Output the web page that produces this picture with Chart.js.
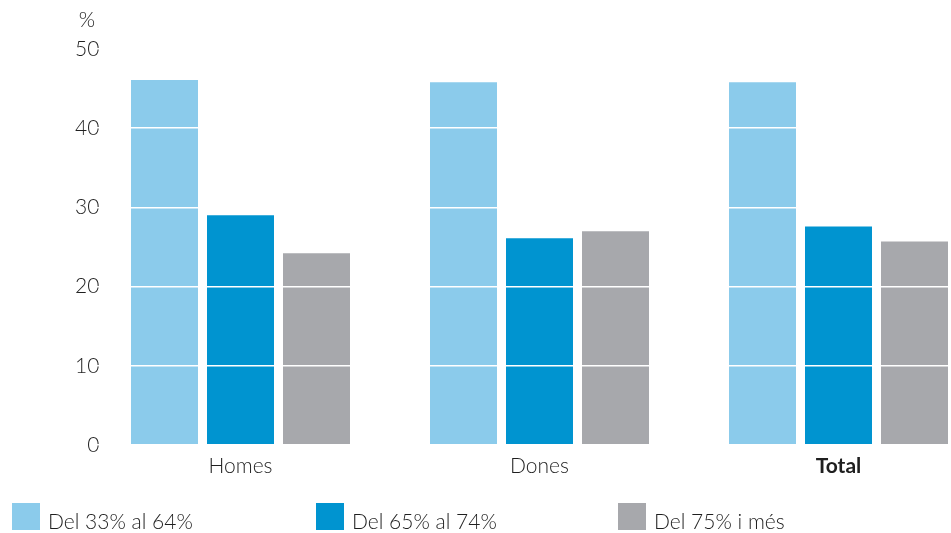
<!DOCTYPE html>
<html>
<head>
<meta charset="utf-8">
<script src="https://cdn.jsdelivr.net/npm/chart.js@4/dist/chart.umd.min.js"></script>
<style>
  html, body { margin: 0; padding: 0; background: #fff; }
  body { width: 951px; height: 533px; overflow: hidden; position: relative; font-family: Lato, "Open Sans", sans-serif; }
  #wrap { position: absolute; left: 0; top: 0; width: 1040px; height: 533px; }
  #legend { position: absolute; left: 0; top: 503px; width: 951px; height: 30px; }
  .item { position: absolute; top: 0; height: 28px; }
  .sw { position: absolute; left: 0; top: 0; width: 28px; height: 27px; }
  .lt { position: absolute; left: 36px; top: 6px; font-size: 21px; font-weight: 300; color: #1f1f1f; white-space: nowrap; line-height: 24px; }
</style>
</head>
<body>
<div id="wrap"><canvas id="c" width="1040" height="533"></canvas></div>
<div id="legend"></div>
<script>
const categories = ["Homes", "Dones", "Total"];
const seriesLabels = ["Del 33% al 64%", "Del 65% al 74%", "Del 75% i més"];
const band33to64 = [46.1, 45.8, 45.8];
const band65to74 = [29.0, 26.1, 27.6];
const band75plus = [24.2, 27.0, 25.7];
const yTicks = [0, 10, 20, 30, 40, 50];
const colors = ["#8BCBEB", "#0094D0", "#A7A8AC"];
const legendX = [12, 316, 618];

const seriesData = [band33to64, band65to74, band75plus];
const FONT = 'Lato, "Open Sans", sans-serif';
const TEXT = '#1f1f1f';

const percentPlugin = {
  id: 'percentTitle',
  afterDraw(chart) {
    const ctx = chart.ctx;
    ctx.save();
    ctx.font = '300 21px ' + FONT;
    ctx.fillStyle = TEXT;
    ctx.textAlign = 'center';
    ctx.textBaseline = 'middle';
    ctx.fillText('%', chart.chartArea.left - 4, chart.chartArea.top - 29);
    ctx.restore();
  }
};

const chart = new Chart(document.getElementById('c'), {
  type: 'bar',
  data: {
    labels: categories,
    datasets: seriesData.map((d, i) => ({
      label: seriesLabels[i],
      data: d,
      backgroundColor: colors[i],
      borderWidth: 0,
      categoryPercentage: 0.7625,
      barPercentage: 0.8816
    }))
  },
  options: {
    responsive: false,
    animation: false,
    devicePixelRatio: 1,
    layout: { padding: { top: 49, right: 52, bottom: 60, left: 0 } },
    plugins: { legend: { display: false }, tooltip: { enabled: false } },
    scales: {
      x: {
        offset: true,
        grid: { display: false, drawTicks: false },
        border: { display: false },
        ticks: {
          padding: 9,
          color: TEXT,
          font: (ctx) => ({ family: FONT, size: 21, weight: ctx.index === 2 ? 'bold' : 300 })
        },
        afterFit(scale) { scale.height = 28; }
      },
      y: {
        min: 0,
        max: 50,
        afterBuildTicks(scale) { scale.ticks = yTicks.map(v => ({ value: v })); },
        grid: { color: '#ffffff', lineWidth: 1.6, drawTicks: false, z: 1 },
        border: { display: false },
        ticks: {
          mirror: true,
          crossAlign: 'far',
          padding: -16,
          color: TEXT,
          font: { family: FONT, size: 21, weight: 300 }
        },
        afterFit(scale) { scale.width = 91; }
      }
    }
  },
  plugins: [percentPlugin]
});

const legend = document.getElementById('legend');
chart.data.datasets.forEach((ds, i) => {
  const item = document.createElement('div');
  item.className = 'item';
  item.style.left = legendX[i] + 'px';
  const sw = document.createElement('div');
  sw.className = 'sw';
  sw.style.background = ds.backgroundColor;
  const lt = document.createElement('div');
  lt.className = 'lt';
  lt.textContent = ds.label;
  item.appendChild(sw);
  item.appendChild(lt);
  legend.appendChild(item);
});
</script>
</body>
</html>
